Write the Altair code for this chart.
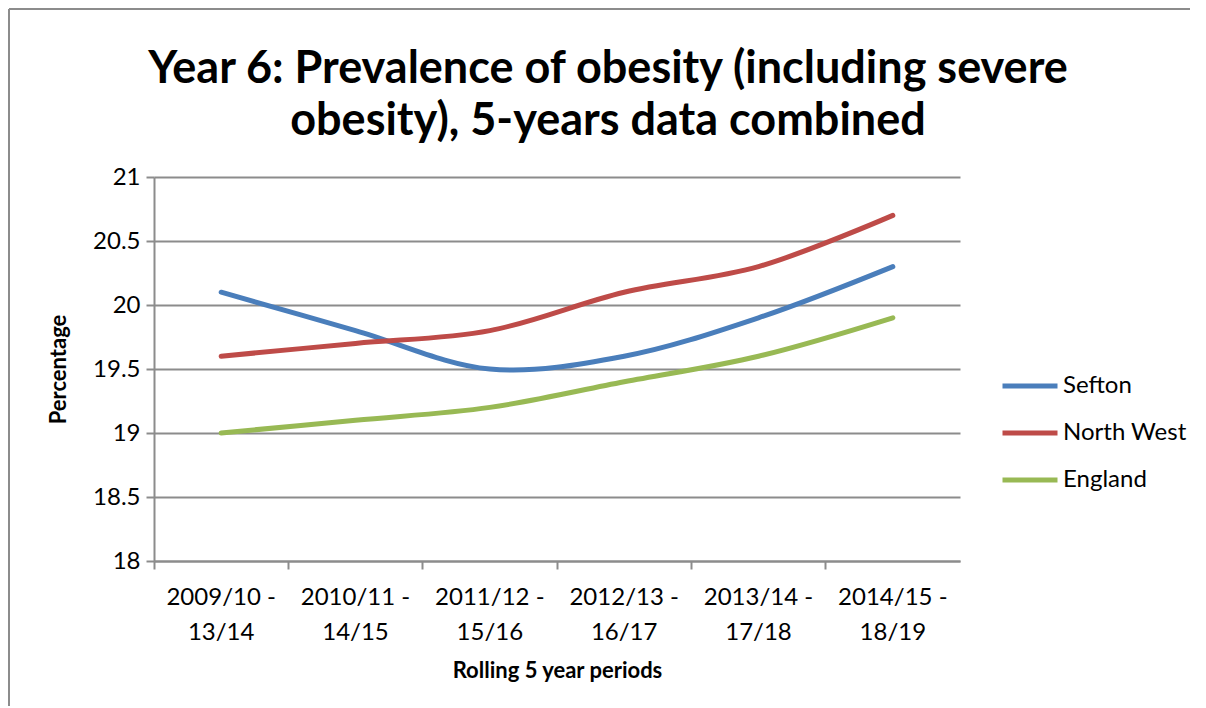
import altair as alt
import pandas as pd

periods = ["2009/10 - 13/14", "2010/11 - 14/15", "2011/12 - 15/16",
           "2012/13 - 16/17", "2013/14 - 17/18", "2014/15 - 18/19"]
sefton = [20.1, 19.8, 19.5, 19.6, 19.9, 20.3]
north_west = [19.6, 19.7, 19.8, 20.1, 20.3, 20.7]
england = [19.0, 19.1, 19.2, 19.4, 19.6, 19.9]
series_names = ["Sefton", "North West", "England"]
series_colors = ["#4A7EBB", "#BE4B48", "#98B954"]

rows = []
for name, vals in zip(series_names, [sefton, north_west, england]):
    for p, v in zip(periods, vals):
        rows.append({"period": p, "value": v, "series": name})
df = pd.DataFrame(rows)

W, H = 806, 384
FONT = "Lato"
GRID = "#8c8c8c"

lines = alt.Chart(df).mark_line(
    strokeWidth=5, interpolate="catmull-rom", strokeCap="round"
).encode(
    x=alt.X("period:N", sort=periods,
            scale=alt.Scale(type="band", paddingInner=0, paddingOuter=0),
            axis=alt.Axis(title="Rolling 5 year periods", labelAngle=0,
                          bandPosition=0, grid=False,
                          labelExpr="[slice(datum.label, 0, 9), slice(datum.label, 10)]",
                          labelLineHeight=35, labelPadding=16, tickSize=8,
                          titlePadding=16)),
    y=alt.Y("value:Q", scale=alt.Scale(domain=[18, 21], nice=False, zero=False),
            axis=alt.Axis(title="Percentage", values=[18, 18.5, 19, 19.5, 20, 20.5, 21],
                          format=".1~f", tickSize=8, labelPadding=6, titlePadding=22)),
    color=alt.Color("series:N", sort=series_names,
                    scale=alt.Scale(domain=series_names, range=series_colors),
                    legend=alt.Legend(title=None, orient="none", legendX=846, legendY=179,
                                      symbolType="stroke", symbolSize=3025,
                                      symbolStrokeWidth=5, labelOffset=3,
                                      rowPadding=5, labelFontSize=24, labelFont=FONT,
                                      labelColor="black")),
)

one = pd.DataFrame({"a": [0]})
frame_left = alt.Chart(one).mark_rule(color=GRID, strokeWidth=2).encode(
    x=alt.value(-145), y=alt.value(-168), y2=alt.value(H + 200))
frame_top = alt.Chart(one).mark_rule(color=GRID, strokeWidth=2).encode(
    x=alt.value(-145), x2=alt.value(1100), y=alt.value(-168))

chart = alt.layer(frame_left, frame_top, lines).properties(
    width=W, height=H,
    title=alt.Title(["Year 6: Prevalence of obesity (including severe",
                     "obesity), 5-years data combined"],
                    font=FONT, fontSize=45, fontWeight="bold", color="black",
                    lineHeight=52, anchor="middle", frame="group", dx=51,
                    offset=0, dy=136),
    autosize=alt.AutoSizeParams(type="none"),
    padding={"left": 146, "top": 169, "right": 230, "bottom": 145},
).configure_view(stroke=None).configure_axis(
    labelFont=FONT, labelFontSize=24, labelColor="black",
    titleFont=FONT, titleFontSize=22, titleFontWeight="bold", titleColor="black",
    domainColor=GRID, domainWidth=2, tickColor=GRID, tickWidth=2,
    gridColor=GRID, gridWidth=2,
).configure_axisX(domain=True)

chart.save("out.html", embed_options={"renderer": "svg", "actions": False})
